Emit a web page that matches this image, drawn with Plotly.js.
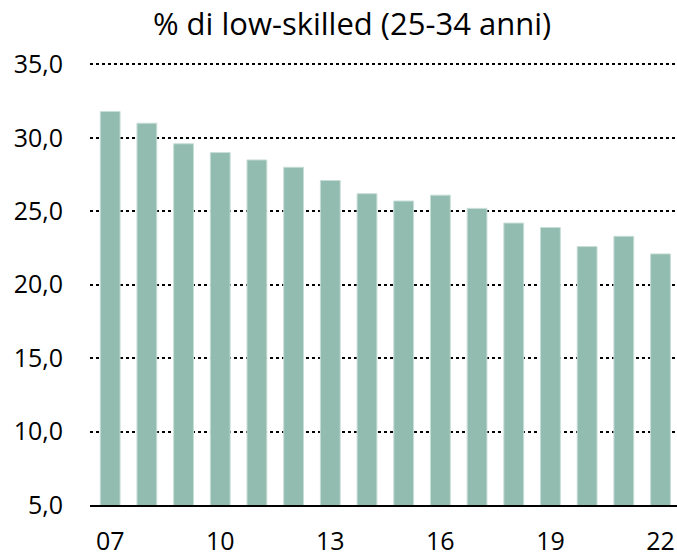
<!DOCTYPE html>
<html><head><meta charset="utf-8">
<script src="https://cdn.plot.ly/plotly-3.0.1.min.js"></script>
<style>html,body{margin:0;padding:0;background:#fff}#chart{width:677px;height:557px}</style>
</head><body><div id="chart"></div>
<script>
const years = ["07","08","09","10","11","12","13","14","15","16","17","18","19","20","21","22"];
const lowSkilled = [31.8,31.0,29.6,29.0,28.5,28.0,27.1,26.2,25.7,26.1,25.2,24.2,23.9,22.6,23.3,22.1];
const xTickLabels = ["07","10","13","16","19","22"];
const yTicks = [5,10,15,20,25,30,35];

const FONT = "'Open Sans', Lato, sans-serif";
Plotly.newPlot('chart', [{
  type: 'bar', x: years, y: lowSkilled,
  marker: {color: '#92BCB0', line: {color: '#C8DED7', width: 1}},
  hoverinfo: 'skip'
}], {
  width: 677, height: 557,
  margin: {l: 90, r: 0, t: 62.5, b: 52},
  paper_bgcolor: '#fff', plot_bgcolor: '#fff',
  bargap: 0.46,
  separators: ',.',
  title: {text: '% di low-skilled (25-34 anni)', x: 0.52, xanchor: 'center', y: 0.957, yanchor: 'middle',
          font: {family: FONT, size: 31, color: '#000'}},
  xaxis: {type: 'category', range: [-0.55, 15.45], tickvals: xTickLabels, ticktext: xTickLabels,
          showgrid: false, showline: true, linecolor: '#000', linewidth: 2, ticks: '',
          ticklabelstandoff: 13, tickfont: {family: FONT, size: 25, color: '#000'}, zeroline: false},
  yaxis: {range: [5, 35.1], tickvals: yTicks, tickformat: '.1f', showgrid: true, gridcolor: '#000',
          griddash: 'dot', gridwidth: 2, zeroline: false, showline: false, ticks: '',
          ticklabelstandoff: 26, tickfont: {family: FONT, size: 25, color: '#000'}},
  showlegend: false
}, {staticPlot: true});
</script></body></html>
